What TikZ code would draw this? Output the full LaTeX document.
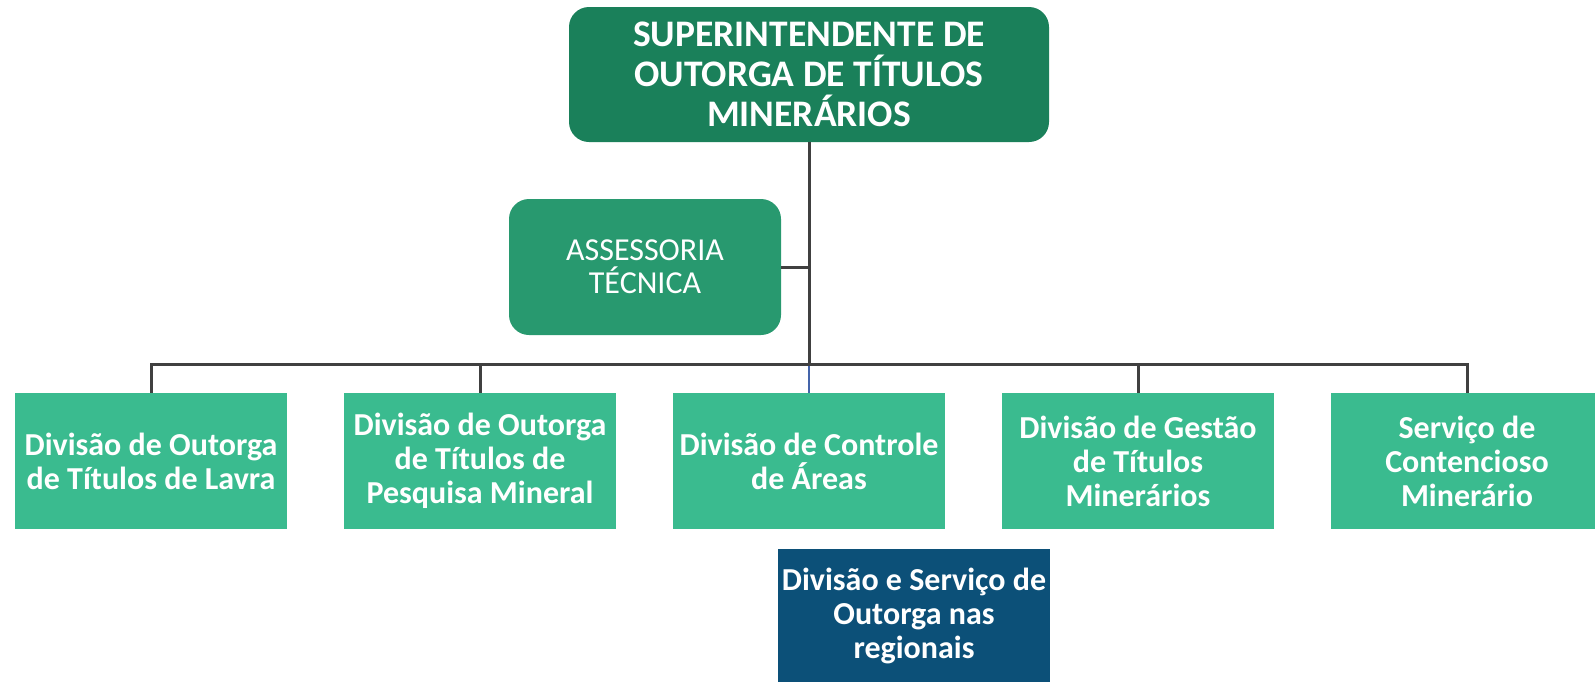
\documentclass[tikz,border=0pt]{standalone}
\usepackage{fontspec}
\setmainfont{Carlito}
\definecolor{topgreen}{RGB}{26,128,90}
\definecolor{midgreen}{RGB}{40,153,111}
\definecolor{lightgreen}{RGB}{58,187,143}
\definecolor{navyblue}{RGB}{12,80,120}
\definecolor{linegray}{RGB}{64,64,64}
\definecolor{linkblue}{RGB}{68,100,170}
\tikzset{
  box/.style={rectangle, inner sep=0pt, align=center, text=white},
  topbox/.style={box, fill=topgreen, rounded corners=20pt, minimum width=480pt, minimum height=135pt,
    font=\fontsize{37.5}{40}\selectfont\bfseries},
  assbox/.style={box, fill=midgreen, rounded corners=20pt, minimum width=272pt, minimum height=136pt,
    font=\fontsize{32}{33}\selectfont},
  divbox/.style={box, fill=lightgreen, minimum width=272pt, minimum height=136pt,
    font=\fontsize{32}{34}\selectfont\bfseries},
  regbox/.style={box, fill=navyblue, minimum width=272pt, minimum height=134pt,
    font=\fontsize{32}{34}\selectfont\bfseries},
  conn/.style={draw=linegray, line width=3pt},
  blueconn/.style={draw=linkblue, line width=1.8pt},
}
\begin{document}
\begin{tikzpicture}[x=1pt,y=-1pt]
\useasboundingbox (0,0) rectangle (1595,681);
\node[topbox] (sup) at (809,74.5) {SUPERINTENDENTE DE\\OUTORGA DE TÍTULOS\\MINERÁRIOS};
\node[assbox] (ass) at (645,267) {ASSESSORIA\\TÉCNICA};
\node[divbox] (d1) at (151,461) {Divisão de Outorga\\de Títulos de Lavra};
\node[divbox] (d2) at (480,461) {Divisão de Outorga\\de Títulos de\\Pesquisa Mineral};
\node[divbox] (d3) at (809,461) {Divisão de Controle\\de Áreas};
\node[divbox] (d4) at (1138,461) {Divisão de Gestão\\de Títulos\\Minerários};
\node[divbox] (d5) at (1467,461) {Serviço de\\Contencioso\\Minerário};
\node[regbox] (reg) at (914,616) {Divisão e Serviço de\\Outorga nas\\regionais};
\coordinate (bus) at (809,364);
\draw[blueconn] (bus) -- (d3.north);
\draw[conn] (sup.south) -- (bus);
\draw[conn] (ass.east) -- (ass.east -| sup.south);
\draw[conn] (d1.north) -- (d1.north |- bus) -- (d5.north |- bus) -- (d5.north);
\draw[conn] (d2.north) -- (d2.north |- bus);
\draw[conn] (d4.north) -- (d4.north |- bus);
\end{tikzpicture}
\end{document}
